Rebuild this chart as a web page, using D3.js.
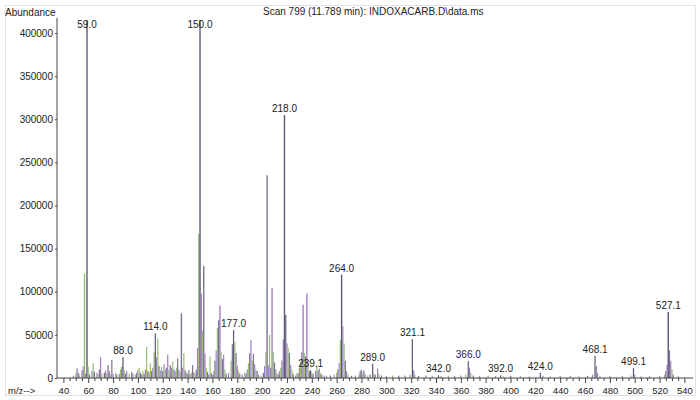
<!DOCTYPE html>
<html>
<head>
<meta charset="utf-8">
<script src="https://cdn.jsdelivr.net/npm/d3@7"></script>
<style>
  html, body { margin: 0; padding: 0; background: #ffffff; }
  svg { display: block; }
  text { font-family: "Liberation Sans", Arial, sans-serif; fill: #222; }
</style>
</head>
<body>
<svg id="chart" width="700" height="400"></svg>
<script>
// ---- data ----
const title = "Scan 799 (11.789 min): INDOXACARB.D\\data.ms";
const yLabel = "Abundance";
const xLabel = "m/z-->";

const mz = [48,50,51,52,53,55,56,57,58,59,60,61,63,64,65,67,68,69,70,71,73,74,75,76,77,78,79,80,82,83,85,86,87,88,89,90,91,93,95,96,98,99,
  100,101,102,103,104,105,106,107,108,109,110,111,112,113,114,115,116,117,118,119,120,121,122,123,124,125,126,127,128,129,130,131,132,133,134,135,136,137,138,139,
  140,141,142,143,144,145,146,147,148,149,150,151,152,153,154,155,156,157,158,159,160,161,162,163,164,165,166,167,168,169,170,171,173,175,176,177,178,179,
  180,181,182,184,186,187,188,189,190,191,192,193,194,195,196,197,199,201,202,203,204,205,206,207,208,209,210,211,212,213,214,215,216,217,218,219,
  220,221,222,223,224,225,227,228,229,230,231,232,233,234,235,236,237,238,239,240,241,243,244,245,246,247,248,250,252,255,258,260,261,262,263,264,265,266,267,268,269,
  272,275,278,279,280,281,282,283,285,287,289,290,291,293,294,296,300,305,310,315,319,321,322,323,326,332,337,342,344,350,355,360,364,366,367,368,370,375,
  382,388,392,394,400,408,415,424,426,432,440,448,455,462,466,468,469,470,472,480,490,497,499,500,505,512,520,524,525,526,527,528,529,530,531,535];
const abundance = [2500,5000,11000,6000,4000,9000,14000,121000,5000,415000,13000,4000,8000,17000,7000,6000,4000,10000,24000,5000,6000,9000,5000,15000,8000,4000,21000,5000,6000,4000,5000,10000,13000,24000,9000,5000,8000,5000,7000,5000,4000,6000,
  9000,12000,6000,4000,8000,5000,10000,36000,8000,6000,17000,8000,12000,30000,52000,24000,46000,14000,9000,13000,8000,16000,10000,12000,27000,9000,15000,12000,19000,10000,8000,12000,23000,10000,7000,75000,12000,29000,9000,6000,
  5000,9000,4000,6000,15000,7000,5000,10000,35000,167000,415000,98000,55000,130000,28000,12000,7000,4000,25000,6000,4000,8000,20000,32000,58000,67000,84000,30000,22000,27000,10000,5000,6000,20000,39000,55600,42000,29000,
  14000,8000,5000,4000,6000,5000,10000,17000,29000,44000,20000,28000,16000,10000,8000,4000,3000,6000,14000,30000,235000,15000,50000,12000,104000,30500,18000,10000,6000,4000,8000,12000,20000,45000,305000,73000,
  40000,35000,29000,15000,10000,5000,3000,6000,5000,12000,20000,30000,85000,29000,25000,98000,17000,8000,9000,6000,5000,8000,15000,9000,11000,6000,4000,3000,2500,3000,4000,6000,10000,17000,44000,119800,60000,40000,20000,8000,4000,
  2500,3000,4000,8000,10000,6000,9000,4000,3000,4000,16600,5000,4000,11000,5000,3000,2500,3000,2500,3000,4000,45000,9000,4000,2500,3000,2500,3000,2000,2500,2000,3000,4000,19300,12000,6000,3000,2000,
  2500,2000,3000,2000,2500,2000,2000,6000,2500,2000,2000,2500,2000,2500,4000,25700,14000,6000,3000,2000,2500,3000,11500,4000,2000,2000,2500,4000,8000,15000,76500,32000,20000,10000,4000,2000];

const peakLabels = ["59.0","88.0","114.0","150.0","177.0","218.0","239.1","264.0","289.0","321.1","342.0","366.0","392.0","424.0","468.1","499.1","527.1"];
const yTicks = [0,50000,100000,150000,200000,250000,300000,350000,400000];
const xTicks = [40,60,80,100,120,140,160,180,200,220,240,260,280,300,320,340,360,380,400,420,440,460,480,500,520,540];

// ---- layout ----
const svg = d3.select("#chart");
const x = d3.scaleLinear().domain([40, 540]).range([63.4, 684.4]);
const y = d3.scaleLinear().domain([0, 400000]).range([378, 33]);
const axisLeft = 57, axisRight = 693, axisTop = 18;

// faint scanned-page border
svg.append("rect").attr("x", 5.5).attr("y", 5.5).attr("width", 690).attr("height", 390)
  .attr("fill", "none").attr("stroke", "#e2e2e2").attr("stroke-width", 1);

// title & labels
svg.append("text").attr("x", 263).attr("y", 15).attr("font-size", 10).text(title);
svg.append("text").attr("x", 5).attr("y", 16).attr("font-size", 10).text(yLabel);
svg.append("text").attr("x", 8).attr("y", 394).attr("font-size", 9.5).text(xLabel);

// peaks
const palette = ["#a27fc2", "#97bd78", "#7a7590"];
const labelSet = new Set(peakLabels.map(l => Math.round(parseFloat(l))));
const peaks = mz.map((m, i) => ({ m, a: abundance[i], i }));
svg.append("g").selectAll("line").data(peaks).join("line")
  .attr("x1", d => x(d.m)).attr("x2", d => x(d.m))
  .attr("y1", y(0)).attr("y2", d => Math.max(axisTop + 2, y(d.a)))
  .attr("stroke", d => labelSet.has(d.m) ? "#5c5872" : palette[d.i % 3])
  .attr("stroke-width", d => d.a > 60000 ? 1.4 : 1.2);

// y axis
const gy = svg.append("g").attr("transform", `translate(${axisLeft},0)`)
  .call(d3.axisLeft(y).tickValues(yTicks).tickSize(2).tickPadding(2).tickFormat(d3.format("d")));
gy.select(".domain").remove();
gy.selectAll("line").attr("stroke", "#444");
gy.selectAll("text").attr("font-size", 10).attr("fill", "#222").attr("font-family", "Liberation Sans, Arial, sans-serif");
svg.append("line").attr("x1", axisLeft).attr("x2", axisLeft).attr("y1", axisTop).attr("y2", y(0))
  .attr("stroke", "#444").attr("stroke-width", 1);

// x axis
const minorTicks = d3.range(40, 545, 5).filter(v => v % 20 !== 0);
svg.append("g").attr("transform", `translate(0,${y(0)})`)
  .call(d3.axisBottom(x).tickValues(minorTicks).tickSize(3).tickFormat(""))
  .call(g => g.select(".domain").remove())
  .selectAll("line").attr("stroke", "#444");
const gx = svg.append("g").attr("transform", `translate(0,${y(0)})`)
  .call(d3.axisBottom(x).tickValues(xTicks).tickSize(5).tickPadding(4).tickFormat(d3.format("d")));
gx.select(".domain").remove();
gx.selectAll("line").attr("stroke", "#444");
gx.selectAll("text").attr("font-size", 9.5).attr("fill", "#222").attr("font-family", "Liberation Sans, Arial, sans-serif");
svg.append("line").attr("x1", axisLeft).attr("x2", axisRight).attr("y1", y(0)).attr("y2", y(0))
  .attr("stroke", "#444").attr("stroke-width", 1);

// peak labels
const abByMz = new Map(mz.map((m, i) => [m, abundance[i]]));
svg.append("g").selectAll("text").data(peakLabels).join("text")
  .attr("x", d => x(parseFloat(d)))
  .attr("y", d => Math.max(27.5, y(abByMz.get(Math.round(parseFloat(d)))) - 3))
  .attr("text-anchor", "middle").attr("font-size", 10)
  .text(d => d);
</script>
</body>
</html>
